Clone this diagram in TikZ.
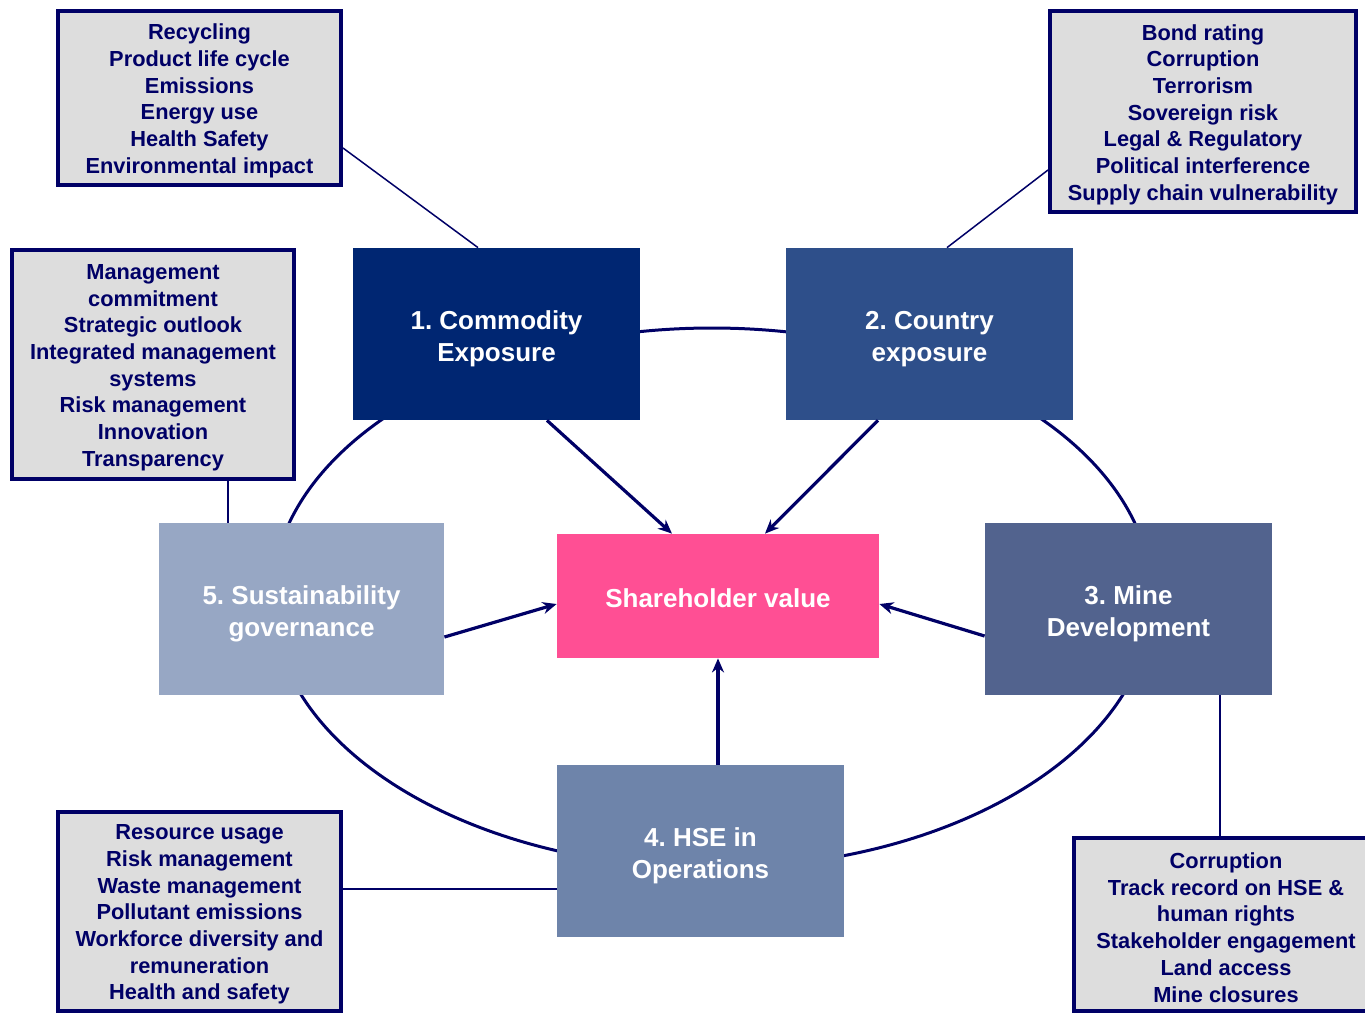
\documentclass[tikz,border=0pt]{standalone}
\usepackage{fontspec}
\setmainfont{Liberation Sans}
\frenchspacing
\usetikzlibrary{arrows.meta}
\definecolor{navy}{RGB}{0,0,102}
\definecolor{greyfill}{RGB}{221,221,221}
\definecolor{cone}{RGB}{0,38,114}
\definecolor{ctwo}{RGB}{46,79,138}
\definecolor{cthree}{RGB}{82,99,142}
\definecolor{cfour}{RGB}{110,132,170}
\definecolor{cfive}{RGB}{151,167,196}
\definecolor{cpink}{RGB}{255,79,148}
\tikzset{
  mainbox/.style={rectangle, inner sep=0pt},
  maintext/.style={inner sep=0pt, text=white, align=center, yshift=-2.5pt,
    font=\fontsize{13pt}{16pt}\selectfont\bfseries},
  listbox/.style={rectangle, inner sep=0pt, draw=navy, line width=2pt, fill=greyfill},
  listtext/.style={inner sep=0pt, text=navy, align=center, yshift=-1.5pt,
    font=\fontsize{10.9pt}{13.35pt}\selectfont\bfseries},
  bigarrow/.style={draw=navy, line width=1.6pt, -{Stealth[length=7pt,width=6pt]}},
  thinline/.style={draw=navy, line width=0.75pt},
  ring/.style={draw=navy, line width=1.5pt}
}
\begin{document}
\begin{tikzpicture}[x=0.5pt,y=-0.5pt]
\useasboundingbox (0,0) rectangle (1365,1014);
\coordinate (ctr) at (712,598);
\draw[ring] (ctr) ellipse [x radius=220pt, y radius=135pt];

\node[mainbox, fill=cone, minimum width=143.5pt, minimum height=86pt,
  label={[maintext]center:{1. Commodity\\Exposure}}] (c1) at (496.5,334) {};
\node[mainbox, fill=ctwo, minimum width=143.5pt, minimum height=86pt,
  label={[maintext]center:{2. Country\\exposure}}] (c2) at (929.5,334) {};
\node[mainbox, fill=cthree, minimum width=143.5pt, minimum height=86pt,
  label={[maintext]center:{3. Mine\\Development}}] (c3) at (1128.5,609) {};
\node[mainbox, fill=cfour, minimum width=143.5pt, minimum height=86pt,
  label={[maintext]center:{4. HSE in\\Operations}}] (c4) at (700.5,851) {};
\node[mainbox, fill=cfive, minimum width=142.5pt, minimum height=86pt,
  label={[maintext]center:{5. Sustainability\\governance}}] (c5) at (301.5,609) {};
\node[mainbox, fill=cpink, minimum width=161pt, minimum height=62pt,
  label={[maintext, yshift=1.5pt]center:{Shareholder value}}] (sv) at (718,596) {};

\node[listbox, minimum width=141.5pt, minimum height=87pt,
  label={[listtext]center:{Recycling\\Product life cycle\\Emissions\\Energy use\\Health Safety\\Environmental impact}}] (tl) at (199.5,98) {};
\node[listbox, minimum width=153pt, minimum height=100.5pt,
  label={[listtext]center:{Bond rating\\Corruption\\Terrorism\\Sovereign risk\\Legal \& Regulatory\\Political interference\\Supply chain vulnerability}}] (tr) at (1203,111.5) {};
\node[listbox, minimum width=141pt, minimum height=114.5pt,
  label={[listtext]center:{Management\\commitment\\Strategic outlook\\Integrated management\\systems\\Risk management\\Innovation\\Transparency}}] (mg) at (153,364.5) {};
\node[listbox, minimum width=141.5pt, minimum height=99.5pt,
  label={[listtext]center:{Resource usage\\Risk management\\Waste management\\Pollutant emissions\\Workforce diversity and\\remuneration\\Health and safety}}] (bl) at (199.5,911.5) {};
\node[listbox, minimum width=152pt, minimum height=86.5pt,
  label={[listtext]center:{Corruption\\Track record on HSE \&\\human rights\\Stakeholder engagement\\Land access\\Mine closures}}] (br) at (1226,924.5) {};

\draw[bigarrow] ([xshift=25.25pt]c1.south) -- ([xshift=-23pt]sv.north);
\draw[bigarrow] ([xshift=-25.75pt]c2.south) -- ([xshift=23.5pt]sv.north);
\draw[bigarrow] ([yshift=-14pt]c5.east) -- ([yshift=-4pt]sv.west);
\draw[bigarrow] ([yshift=-13.5pt]c3.west) -- ([yshift=-4pt]sv.east);
\draw[bigarrow] ([xshift=8.75pt]c4.north) -- ([xshift=8.75pt]c4.north |- sv.south);

\draw[thinline] ([yshift=-25pt]tl.east) -- ([xshift=-9.25pt]c1.north);
\draw[thinline] ([yshift=-29.25pt]tr.west) -- ([xshift=8.75pt]c2.north);
\draw[thinline] ([xshift=37.5pt]mg.south) -- ([xshift=37.5pt]mg.south |- c5.north);
\draw[thinline] ([yshift=11.25pt]bl.east) -- ([yshift=11.25pt]bl.east -| c4.west);
\draw[thinline] ([xshift=45.75pt]c3.south) -- ([xshift=45.75pt]c3.south |- br.north);
\end{tikzpicture}
\end{document}
